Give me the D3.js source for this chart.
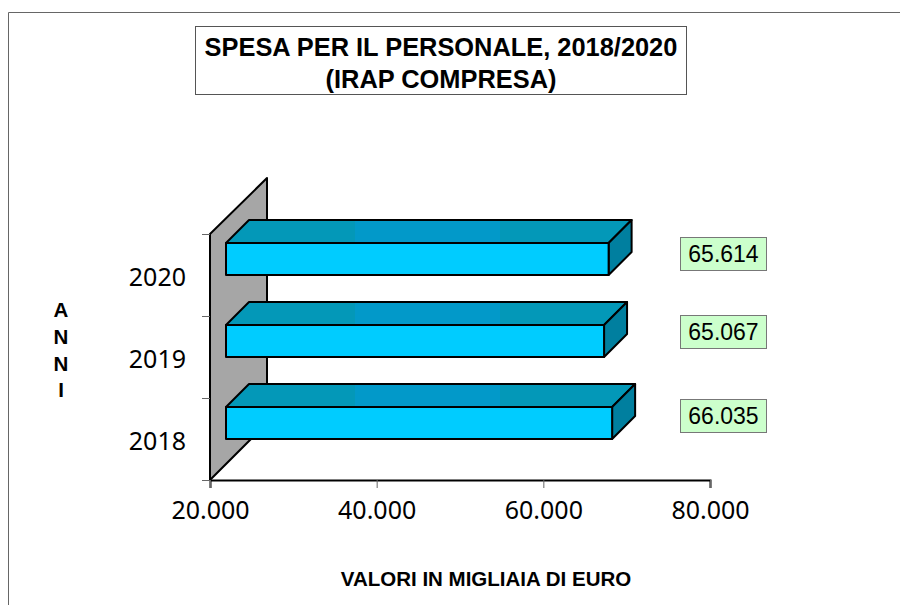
<!DOCTYPE html>
<html>
<head>
<meta charset="utf-8">
<script src="https://cdn.jsdelivr.net/npm/d3@7"></script>
<style>
html, body { margin: 0; padding: 0; background: #fff; }
svg { display: block; }
</style>
</head>
<body>
<script>
var svg_width  = 900;
var svg_height = 605;

//chart data
var anni   = ["2018", "2019", "2020"];
var valori = [66035, 65067, 65614];
var xTicks = [20000, 40000, 60000, 80000];
var titolo = ["SPESA PER IL PERSONALE, 2018/2020", "(IRAP COMPRESA)"];
var yTitle = ["A", "N", "N", "I"];
var xTitle = "VALORI IN MIGLIAIA DI EURO";

//MACRO CONSTANTS:
var BAR_H = 32;
var BAR_DEPTH = 23;
var WALL_DEPTH = 57;
var BAR_LEFT = 226;
var FRONT_SHIFT = 18.5;
//the label boxes are not evenly placed in the original
var LABEL_TOP = {"2018": 399, "2019": 315, "2020": 237};

var svg = d3.select("body").append("svg")
            .attr("width", svg_width)
            .attr("height", svg_height);

var x = d3.scaleLinear().domain([20000, 80000]).range([210, 710]);
var y = d3.scaleBand().domain(anni).range([480, 234]);

var itLocale = d3.formatLocale({decimal: ",", thousands: ".", grouping: [3], currency: ["", " €"]});
var fmt = itLocale.format(",");

function poly(pts) {
    return pts.map(p => p.join(",")).join(" ");
}

//top face has three slightly different bands of colour
var defs = svg.append("defs");
var grad = defs.append("linearGradient")
               .attr("id", "topFace")
               .attr("gradientUnits", "userSpaceOnUse")
               .attr("x1", 226).attr("x2", 636)
               .attr("y1", 0).attr("y2", 0);
[[0, "#0398b8"], [0.315, "#0398b8"], [0.315, "#0299c9"], [0.668, "#0299c9"], [0.668, "#0398b8"], [1, "#0398b8"]]
    .forEach(function(s) {
        grad.append("stop").attr("offset", s[0]).attr("stop-color", s[1]);
    });

//outer frame
svg.append("path")
   .attr("d", "M8.5,605V12.5H900")
   .attr("fill", "none")
   .attr("stroke", "#666")
   .attr("stroke-width", 1);

//title box
svg.append("rect")
   .attr("x", 195.5).attr("y", 26.5)
   .attr("width", 491).attr("height", 68)
   .attr("fill", "#fff").attr("stroke", "#555");

svg.selectAll("text.titolo")
   .data(titolo)
   .enter().append("text")
   .attr("class", "titolo")
   .attr("x", 441)
   .attr("y", (d, i) => 56 + i * 32)
   .attr("text-anchor", "middle")
   .style("font", "bold 25.4px 'Liberation Sans', Arial, sans-serif")
   .text(d => d);

//side wall
var y0 = y.range()[0], y1 = y.range()[1], x0 = x.range()[0];
svg.append("polygon")
   .attr("points", poly([[x0, y0], [x0 + WALL_DEPTH, y0 - WALL_DEPTH], [x0 + WALL_DEPTH, y1 - WALL_DEPTH + 1], [x0, y1]]))
   .attr("fill", "#a6a6a6")
   .attr("stroke", "#000")
   .attr("stroke-width", 2)
   .attr("stroke-linejoin", "round");

//axes
var xAxis = d3.axisBottom(x).tickValues(xTicks).tickFormat(fmt).tickSize(8).tickPadding(13);
var gx = svg.append("g").attr("transform", "translate(0,480)").call(xAxis);
gx.select(".domain").attr("stroke", "#000").attr("stroke-width", 2);
gx.selectAll(".tick line").attr("stroke", "#666");
gx.selectAll(".tick text")
  .attr("fill", "#000")
  .style("font", "25px 'Noto Sans', Tahoma, sans-serif");

//left axis ticks sit on the band edges, so they are drawn with the band step
var edges = anni.map(d => y(d) + y.bandwidth()).concat([y1]);
svg.selectAll("line.ytick")
   .data(edges)
   .enter().append("line")
   .attr("class", "ytick")
   .attr("x1", 202).attr("x2", 210)
   .attr("y1", d => d + 0.5).attr("y2", d => d + 0.5)
   .attr("stroke", "#666");

svg.selectAll("text.anno")
   .data(anni)
   .enter().append("text")
   .attr("class", "anno")
   .attr("x", 186)
   .attr("y", d => y(d) + y.bandwidth() / 2 + 11)
   .attr("text-anchor", "end")
   .style("font", "25px 'Noto Sans', Tahoma, sans-serif")
   .text(d => d);

//bars
var rows = anni.map((d, i) => ({anno: d, valore: valori[i]}));
var bar = svg.selectAll("g.bar")
   .data(rows)
   .enter().append("g")
   .attr("class", "bar")
   .attr("stroke", "#000")
   .attr("stroke-width", 2)
   .attr("stroke-linejoin", "round");

function right(d) { return x(d.valore) + FRONT_SHIFT; }
function bottom(d) { return y(d.anno) + y.bandwidth() / 2; }

bar.append("polygon")
   .attr("points", d => poly([
       [BAR_LEFT, bottom(d) - BAR_H],
       [BAR_LEFT + BAR_DEPTH, bottom(d) - BAR_H - BAR_DEPTH],
       [right(d) + BAR_DEPTH, bottom(d) - BAR_H - BAR_DEPTH],
       [right(d), bottom(d) - BAR_H]]))
   .attr("fill", "url(#topFace)");

bar.append("polygon")
   .attr("points", d => poly([
       [right(d), bottom(d) - BAR_H],
       [right(d) + BAR_DEPTH, bottom(d) - BAR_H - BAR_DEPTH],
       [right(d) + BAR_DEPTH, bottom(d) - BAR_DEPTH],
       [right(d), bottom(d)]]))
   .attr("fill", "#007f9f");

bar.append("rect")
   .attr("x", BAR_LEFT)
   .attr("y", d => bottom(d) - BAR_H)
   .attr("width", d => right(d) - BAR_LEFT)
   .attr("height", BAR_H)
   .attr("fill", "#00ccff");

//value labels
var etichetta = svg.selectAll("g.etichetta")
   .data(rows)
   .enter().append("g")
   .attr("class", "etichetta")
   .attr("transform", d => "translate(680," + LABEL_TOP[d.anno] + ")");

etichetta.append("rect")
   .attr("x", 0.5).attr("y", 0.5)
   .attr("width", 86).attr("height", 33)
   .attr("fill", "#ccffcc")
   .attr("stroke", "#777");

etichetta.append("text")
   .attr("x", 43.5).attr("y", 25)
   .attr("text-anchor", "middle")
   .style("font", "23px 'Liberation Sans', Arial, sans-serif")
   .text(d => fmt(d.valore));

//axis titles
svg.selectAll("text.ytitle")
   .data(yTitle)
   .enter().append("text")
   .attr("class", "ytitle")
   .attr("x", 61)
   .attr("y", (d, i) => 317 + i * 26.8)
   .attr("text-anchor", "middle")
   .style("font", "bold 20.5px 'Liberation Sans', Arial, sans-serif")
   .text(d => d);

svg.append("text")
   .attr("x", 486)
   .attr("y", 586)
   .attr("text-anchor", "middle")
   .style("font", "bold 20.5px 'Liberation Sans', Arial, sans-serif")
   .text(xTitle);
</script>
</body>
</html>
